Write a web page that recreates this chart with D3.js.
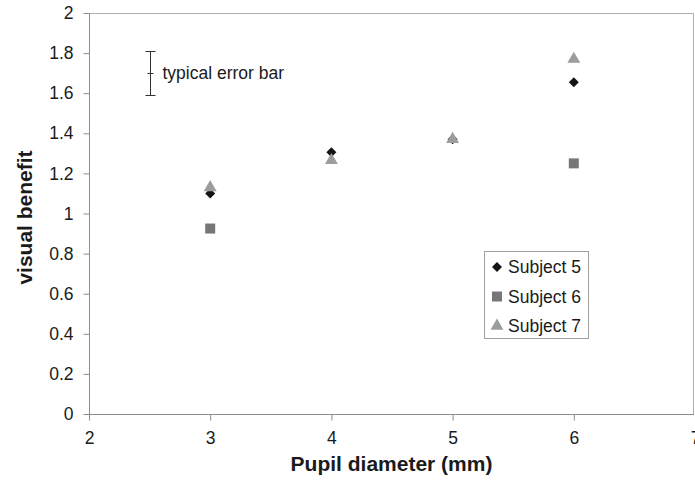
<!DOCTYPE html>
<html>
<head>
<meta charset="utf-8">
<script src="https://cdn.jsdelivr.net/npm/d3@7/dist/d3.min.js"></script>
<style>
  html, body { margin: 0; padding: 0; background: #fff; }
  svg { display: block; font-family: "Liberation Sans", Arial, sans-serif; }
</style>
</head>
<body>
<svg id="chart" width="695" height="490"></svg>
<script>
// Data
const xTicks = [2, 3, 4, 5, 6, 7];
const yTicks = [0, 0.2, 0.4, 0.6, 0.8, 1, 1.2, 1.4, 1.6, 1.8, 2];
const subject5 = [[3, 1.10], [4, 1.305], [5, 1.37], [6, 1.655]];
const subject6 = [[3, 0.925], [6, 1.25]];
const subject7 = [[3, 1.13], [4, 1.265], [5, 1.37], [6, 1.77]];
const seriesNames = ["Subject 5", "Subject 6", "Subject 7"];
const errorBar = { x: 2.5, y: 1.7, err: 0.11, label: "typical error bar" };

const svg = d3.select("#chart");
const pLeft = 89, pRight = 694, pTop = 13, pBottom = 414;
const labelSize = "17.5px";

const x = d3.scaleLinear().domain([2, 7]).range([pLeft, pLeft + 606]);
const y = d3.scaleLinear().domain([0, 2]).range([pBottom, pTop]);

const axisColor = "#8c8c8c";

// plot border (top & right)
svg.append("line").attr("x1", pLeft).attr("x2", pRight).attr("y1", pTop + 0.5).attr("y2", pTop + 0.5)
  .attr("stroke", "#b0b0b0").attr("stroke-width", 1);
svg.append("line").attr("x1", pRight - 0.5).attr("x2", pRight - 0.5).attr("y1", pTop).attr("y2", pBottom)
  .attr("stroke", "#b0b0b0").attr("stroke-width", 1);

// axes
const yAxis = d3.axisLeft(y).tickValues(yTicks).tickSize(6).tickPadding(10)
  .tickFormat(d => d3.format("")(+d.toFixed(1)));
const gy = svg.append("g").attr("transform", `translate(${pLeft + 0.5},0)`).call(yAxis);
const xAxis = d3.axisBottom(x).tickValues(xTicks).tickSize(6).tickPadding(11).tickFormat(d3.format("d"));
const gx = svg.append("g").attr("transform", `translate(0,${pBottom + 0.5})`).call(xAxis);

[gx, gy].forEach(g => {
  g.selectAll(".tick line").attr("stroke", axisColor);
  g.selectAll(".tick text").attr("fill", "#1a1a1a").style("font-size", labelSize);
  g.select(".domain").attr("stroke", axisColor);
});
gy.select(".domain").attr("d", `M0,${pTop}V${pBottom}`);
gx.select(".domain").attr("d", `M${pLeft},0H${pRight}`);

// axis titles
svg.append("text")
  .attr("transform", `translate(32,${(pTop + pBottom) / 2 + 4}) rotate(-90)`)
  .attr("text-anchor", "middle")
  .style("font-size", "21px").style("font-weight", "bold").attr("fill", "#1a1a1a")
  .text("visual benefit");
svg.append("text")
  .attr("x", (pLeft + pRight) / 2).attr("y", 471)
  .attr("text-anchor", "middle")
  .style("font-size", "21px").style("font-weight", "bold").attr("fill", "#1a1a1a")
  .text("Pupil diameter (mm)");

// markers
const sym = {
  diamond: d3.symbol().type(d3.symbolDiamond2).size(64),
  square: d3.symbol().type(d3.symbolSquare).size(100),
  triangle: d3.symbol().type(d3.symbolTriangle).size(72)
};
const styles = [
  { data: subject5, path: sym.diamond(), fill: "#141414" },
  { data: subject6, path: sym.square(), fill: "#777777" },
  { data: subject7, path: sym.triangle(), fill: "#9c9c9c" }
];
styles.forEach(s => {
  svg.append("g").selectAll("path").data(s.data).join("path")
    .attr("d", s.path)
    .attr("transform", d => `translate(${x(d[0])},${y(d[1])})`)
    .attr("fill", s.fill);
});

// error bar
const ex = Math.round(x(errorBar.x)) + 0.5;
const eg = svg.append("g").attr("stroke", "#333").attr("stroke-width", 1);
const yT = Math.round(y(errorBar.y + errorBar.err)) + 0.5;
const yB = Math.round(y(errorBar.y - errorBar.err)) + 0.5;
const yM = Math.round(y(errorBar.y)) + 0.5;
eg.append("line").attr("x1", ex).attr("x2", ex).attr("y1", yT).attr("y2", yB);
eg.append("line").attr("x1", ex - 5).attr("x2", ex + 5).attr("y1", yT).attr("y2", yT);
eg.append("line").attr("x1", ex - 5).attr("x2", ex + 5).attr("y1", yB).attr("y2", yB);
eg.append("line").attr("x1", ex - 3).attr("x2", ex + 3).attr("y1", yM).attr("y2", yM);
svg.append("text").attr("x", ex + 12).attr("y", y(errorBar.y) + 6)
  .style("font-size", labelSize).attr("fill", "#1a1a1a").text(errorBar.label);

// legend
const lg = svg.append("g");
lg.append("rect").attr("x", 484.5).attr("y", 251.5).attr("width", 104).attr("height", 87)
  .attr("fill", "#fff").attr("stroke", "#a0a0a0");
styles.forEach((s, i) => {
  const cy = 267 + i * 29.5;
  lg.append("path").attr("d", s.path).attr("transform", `translate(497,${cy})`).attr("fill", s.fill);
  lg.append("text").attr("x", 508).attr("y", cy + 6).style("font-size", labelSize).attr("fill", "#1a1a1a")
    .text(seriesNames[i]);
});
</script>
</body>
</html>
